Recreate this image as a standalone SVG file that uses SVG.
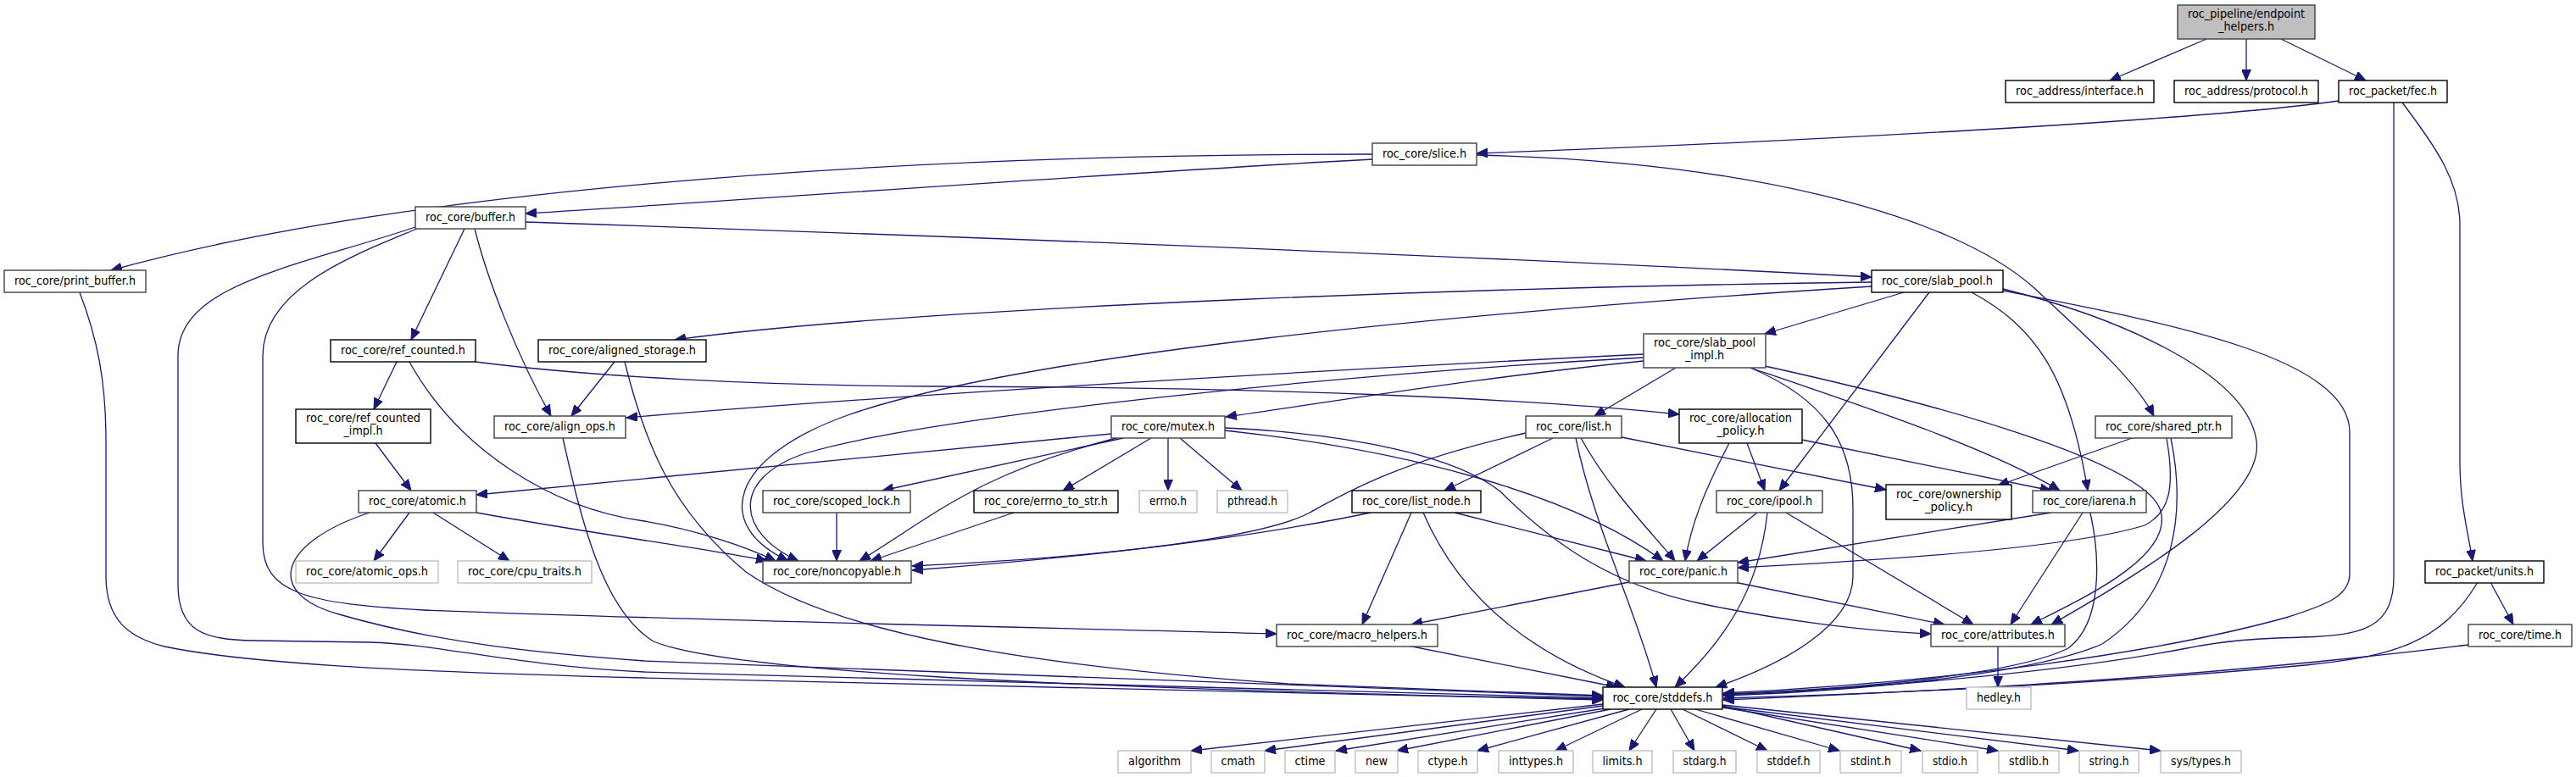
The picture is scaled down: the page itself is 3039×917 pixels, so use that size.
<svg xmlns="http://www.w3.org/2000/svg" width="3039" height="917" viewBox="0 0 3039 917">
<style>
.n rect{fill:#fff;stroke:#000;stroke-width:1.4}
.d rect{stroke:#404040}
.g rect{fill:#fff;stroke:#bfbfbf;stroke-width:1.4}
.r rect{fill:#bfbfbf;stroke:#404040;stroke-width:1.4}
text{font-family:"DejaVu Sans","Liberation Sans",sans-serif;font-size:14px;fill:#000;text-anchor:middle}
#edges path{fill:none;stroke:#191970;stroke-width:1.3;marker-end:url(#ah)}
</style>
<defs>
<marker id="ah" markerUnits="userSpaceOnUse" markerWidth="14" markerHeight="11" refX="13" refY="5.5" orient="auto">
<path d="M0,0 L13,5.5 L0,11 z" fill="#191970" stroke="#191970" stroke-width="1"/>
</marker>
</defs>
<rect x="0" y="0" width="3039" height="917" fill="#fff"/>
<g id="edges">
<path d="M2603,46 L2489,95"/>
<path d="M2650,46 L2650,95"/>
<path d="M2691,46 L2791,95"/>
<path d="M2759,119 C2600,142 2100,168 1742,181"/>
<path d="M2824,121 L2824,680 C2824,740 2790,750 2716,752 C2650,754 2620,757 2580,765 C2450,790 2250,810 2033,820"/>
<path d="M2834,121 C2875,175 2902,215 2902,265 L2902,545 C2902,595 2912,630 2917,662"/>
<path d="M1619,188 C1300,205 900,235 620,252"/>
<path d="M1619,182 C1000,182 450,230 131,319"/>
<path d="M1742,183 C2050,190 2300,250 2400,340 C2470,405 2520,450 2541,491"/>
<path d="M548,270 L485,401"/>
<path d="M560,270 C575,330 610,420 650,491"/>
<path d="M620,262 C1100,278 1700,300 2208,327"/>
<path d="M490,268 C350,315 210,335 210,420 L210,690 C210,745 240,755 300,756 L436,758 C520,760 600,785 760,793 L1891,824"/>
<path d="M492,270 C420,300 310,340 310,420 L310,640 C310,700 360,712 500,720 C900,735 1300,742 1506,748"/>
<path d="M94,345 C115,400 125,450 125,520 L125,680 C125,730 150,752 194,763 C300,785 500,793 760,800 L1891,826"/>
<path d="M468,427 L441,483"/>
<path d="M483,427 C540,530 650,600 760,615 C820,625 880,645 915,662"/>
<path d="M561,427 C700,445 900,455 1100,456 C1500,457 1800,470 1981,489"/>
<path d="M443,523 L485,579"/>
<path d="M725,427 L674,491"/>
<path d="M737,427 C760,520 790,600 880,675 C980,745 1200,785 1520,807 L1891,821"/>
<path d="M664,517 C685,610 710,720 771,757 C850,790 1200,812 1891,825"/>
<path d="M483,605 L441,662"/>
<path d="M511,605 L601,662"/>
<path d="M562,605 C700,630 850,650 905,662"/>
<path d="M436,605 C330,640 310,700 400,725 C520,760 650,772 760,780 L1891,822"/>
<path d="M1311,512 L562,584"/>
<path d="M1325,517 L1041,579"/>
<path d="M1317,517 C1150,560 1100,610 1014,662"/>
<path d="M1358,517 L1254,579"/>
<path d="M1378,517 L1378,579"/>
<path d="M1392,517 L1465,579"/>
<path d="M1445,508 C1650,530 1850,580 1962,662"/>
<path d="M1445,505 C1600,512 1720,540 1770,580 C1830,640 1900,690 2005,712 C2100,732 2200,745 2278,748"/>
<path d="M987,605 L987,662"/>
<path d="M1196,605 L1027,662"/>
<path d="M2208,333 C1800,338 1100,360 796,401"/>
<path d="M2208,338 C1700,370 1200,420 1000,490 C860,540 840,620 930,662"/>
<path d="M2246,345 L2082,394"/>
<path d="M2276,345 L2099,579"/>
<path d="M2326,345 C2400,385 2440,440 2463,579"/>
<path d="M2363,341 C2500,375 2650,440 2662,520 C2672,590 2520,680 2420,737"/>
<path d="M2363,343 C2550,380 2772,420 2772,510 L2772,677 C2772,705 2740,715 2700,728 C2550,770 2300,805 2033,818"/>
<path d="M1939,418 C1500,440 1000,470 739,493"/>
<path d="M1939,426 C1750,445 1600,470 1446,492"/>
<path d="M1939,422 C1600,440 1100,490 950,535 C860,565 870,630 942,662"/>
<path d="M1977,434 L1881,491"/>
<path d="M2082,432 C2300,480 2525,545 2548,600 C2568,655 2460,705 2396,737"/>
<path d="M2065,434 C2200,480 2350,530 2430,579"/>
<path d="M2065,434 C2150,470 2186,520 2186,600 L2186,680 C2186,740 2100,785 2024,811"/>
<path d="M1832,517 L1704,579"/>
<path d="M1800,511 C1650,545 1590,580 1545,605 C1480,640 1250,660 1076,668"/>
<path d="M1859,517 C1880,620 1930,720 1954,811"/>
<path d="M1865,517 C1900,580 1950,630 1976,662"/>
<path d="M1913,516 L2225,578"/>
<path d="M1617,605 C1450,640 1250,660 1076,673"/>
<path d="M1665,605 L1607,737"/>
<path d="M1679,605 C1720,700 1800,770 1917,811"/>
<path d="M1716,605 L1942,662"/>
<path d="M2061,523 L2082,579"/>
<path d="M2040,523 C2010,580 1995,620 1988,662"/>
<path d="M2126,519 L2420,579"/>
<path d="M2073,605 L2002,662"/>
<path d="M2085,605 C2075,700 2030,760 1976,811"/>
<path d="M2107,605 L2328,737"/>
<path d="M2420,605 L2050,664"/>
<path d="M2457,605 L2372,737"/>
<path d="M2466,605 C2478,660 2480,735 2440,765 C2380,795 2200,813 2033,819"/>
<path d="M2518,516 L2357,573"/>
<path d="M2556,517 C2566,575 2560,605 2530,620 C2450,645 2250,660 2050,670"/>
<path d="M2561,517 C2578,600 2570,700 2480,760 C2400,795 2200,815 2033,821"/>
<path d="M1922,687 L1665,737"/>
<path d="M2046,687 L2294,737"/>
<path d="M1661,762 L1908,811"/>
<path d="M2357,762 L2357,811"/>
<path d="M2923,687 C2880,760 2820,775 2720,785 C2500,805 2250,818 2033,824"/>
<path d="M2938,687 L2965,737"/>
<path d="M2912,761 C2600,800 2300,815 2033,826"/>
<path d="M1891,831 L1405,886"/>
<path d="M1891,833 L1492,886"/>
<path d="M1893,836 L1576,886"/>
<path d="M1900,837 L1648,886"/>
<path d="M1922,837 L1743,886"/>
<path d="M1937,837 L1835,886"/>
<path d="M1954,837 L1922,886"/>
<path d="M1971,837 L1999,886"/>
<path d="M1985,837 L2085,886"/>
<path d="M2000,837 L2170,886"/>
<path d="M2032,833 L2266,886"/>
<path d="M2032,835 L2357,886"/>
<path d="M2032,834 L2452,886"/>
<path d="M2032,832 L2549,886"/>
</g>
<g id="root" class="r"><rect x="2569" y="6" width="162" height="40"/><text x="2650" y="21" textLength="138" lengthAdjust="spacingAndGlyphs">roc_pipeline/endpoint</text><text x="2650" y="36" textLength="66" lengthAdjust="spacingAndGlyphs">_helpers.h</text></g>
<g id="interface" class="n"><rect x="2366" y="95" width="175" height="26"/><text x="2453.5" y="111.5" textLength="151" lengthAdjust="spacingAndGlyphs">roc_address/interface.h</text></g>
<g id="protocol" class="n"><rect x="2565" y="95" width="170" height="26"/><text x="2650" y="111.5" textLength="146" lengthAdjust="spacingAndGlyphs">roc_address/protocol.h</text></g>
<g id="fec" class="n"><rect x="2759" y="95" width="128" height="26"/><text x="2823" y="111.5" textLength="104" lengthAdjust="spacingAndGlyphs">roc_packet/fec.h</text></g>
<g id="slice" class="n d"><rect x="1619" y="169" width="123" height="26"/><text x="1680.5" y="185.5" textLength="99" lengthAdjust="spacingAndGlyphs">roc_core/slice.h</text></g>
<g id="buffer" class="n d"><rect x="490" y="244" width="130" height="26"/><text x="555" y="260.5" textLength="106" lengthAdjust="spacingAndGlyphs">roc_core/buffer.h</text></g>
<g id="print_buffer" class="n d"><rect x="5" y="319" width="167" height="26"/><text x="88.5" y="335.5" textLength="143" lengthAdjust="spacingAndGlyphs">roc_core/print_buffer.h</text></g>
<g id="slab_pool" class="n"><rect x="2208" y="319" width="155" height="26"/><text x="2285.5" y="335.5" textLength="131" lengthAdjust="spacingAndGlyphs">roc_core/slab_pool.h</text></g>
<g id="ref_counted" class="n"><rect x="390" y="401" width="171" height="26"/><text x="475.5" y="417.5" textLength="147" lengthAdjust="spacingAndGlyphs">roc_core/ref_counted.h</text></g>
<g id="aligned_storage" class="n"><rect x="635" y="401" width="198" height="26"/><text x="734" y="417.5" textLength="174" lengthAdjust="spacingAndGlyphs">roc_core/aligned_storage.h</text></g>
<g id="slab_pool_impl" class="n d"><rect x="1939" y="394" width="144" height="40"/><text x="2011" y="409" textLength="120" lengthAdjust="spacingAndGlyphs">roc_core/slab_pool</text><text x="2011" y="424" textLength="46" lengthAdjust="spacingAndGlyphs">_impl.h</text></g>
<g id="ref_counted_impl" class="n"><rect x="349" y="483" width="159" height="40"/><text x="428.5" y="498" textLength="135" lengthAdjust="spacingAndGlyphs">roc_core/ref_counted</text><text x="428.5" y="513" textLength="46" lengthAdjust="spacingAndGlyphs">_impl.h</text></g>
<g id="align_ops" class="n d"><rect x="583" y="491" width="155" height="26"/><text x="660.5" y="507.5" textLength="131" lengthAdjust="spacingAndGlyphs">roc_core/align_ops.h</text></g>
<g id="mutex" class="n d"><rect x="1311" y="491" width="134" height="26"/><text x="1378" y="507.5" textLength="110" lengthAdjust="spacingAndGlyphs">roc_core/mutex.h</text></g>
<g id="list" class="n d"><rect x="1800" y="491" width="113" height="26"/><text x="1856.5" y="507.5" textLength="89" lengthAdjust="spacingAndGlyphs">roc_core/list.h</text></g>
<g id="allocation_policy" class="n"><rect x="1981" y="483" width="145" height="40"/><text x="2053.5" y="498" textLength="121" lengthAdjust="spacingAndGlyphs">roc_core/allocation</text><text x="2053.5" y="513" textLength="56" lengthAdjust="spacingAndGlyphs">_policy.h</text></g>
<g id="shared_ptr" class="n d"><rect x="2472" y="491" width="161" height="26"/><text x="2552.5" y="507.5" textLength="137" lengthAdjust="spacingAndGlyphs">roc_core/shared_ptr.h</text></g>
<g id="atomic" class="n d"><rect x="423" y="579" width="139" height="26"/><text x="492.5" y="595.5" textLength="115" lengthAdjust="spacingAndGlyphs">roc_core/atomic.h</text></g>
<g id="scoped_lock" class="n d"><rect x="900" y="579" width="174" height="26"/><text x="987" y="595.5" textLength="150" lengthAdjust="spacingAndGlyphs">roc_core/scoped_lock.h</text></g>
<g id="errno_to_str" class="n"><rect x="1149" y="579" width="170" height="26"/><text x="1234" y="595.5" textLength="146" lengthAdjust="spacingAndGlyphs">roc_core/errno_to_str.h</text></g>
<g id="errno" class="g"><rect x="1344" y="579" width="68" height="26"/><text x="1378" y="595.5" textLength="44" lengthAdjust="spacingAndGlyphs">errno.h</text></g>
<g id="pthread" class="g"><rect x="1436" y="579" width="83" height="26"/><text x="1477.5" y="595.5" textLength="59" lengthAdjust="spacingAndGlyphs">pthread.h</text></g>
<g id="list_node" class="n"><rect x="1595" y="579" width="152" height="26"/><text x="1671" y="595.5" textLength="128" lengthAdjust="spacingAndGlyphs">roc_core/list_node.h</text></g>
<g id="ipool" class="n d"><rect x="2025" y="579" width="125" height="26"/><text x="2087.5" y="595.5" textLength="101" lengthAdjust="spacingAndGlyphs">roc_core/ipool.h</text></g>
<g id="ownership_policy" class="n"><rect x="2225" y="572" width="148" height="41"/><text x="2299" y="587.5" textLength="124" lengthAdjust="spacingAndGlyphs">roc_core/ownership</text><text x="2299" y="602.5" textLength="56" lengthAdjust="spacingAndGlyphs">_policy.h</text></g>
<g id="iarena" class="n d"><rect x="2398" y="579" width="134" height="26"/><text x="2465" y="595.5" textLength="110" lengthAdjust="spacingAndGlyphs">roc_core/iarena.h</text></g>
<g id="noncopyable" class="n d"><rect x="900" y="662" width="175" height="26"/><text x="987.5" y="678.5" textLength="151" lengthAdjust="spacingAndGlyphs">roc_core/noncopyable.h</text></g>
<g id="atomic_ops" class="g"><rect x="349" y="662" width="168" height="26"/><text x="433" y="678.5" textLength="144" lengthAdjust="spacingAndGlyphs">roc_core/atomic_ops.h</text></g>
<g id="cpu_traits" class="g"><rect x="540" y="662" width="158" height="26"/><text x="619" y="678.5" textLength="134" lengthAdjust="spacingAndGlyphs">roc_core/cpu_traits.h</text></g>
<g id="panic" class="n d"><rect x="1922" y="662" width="128" height="26"/><text x="1986" y="678.5" textLength="104" lengthAdjust="spacingAndGlyphs">roc_core/panic.h</text></g>
<g id="units" class="n"><rect x="2861" y="662" width="140" height="26"/><text x="2931" y="678.5" textLength="116" lengthAdjust="spacingAndGlyphs">roc_packet/units.h</text></g>
<g id="macro_helpers" class="n d"><rect x="1506" y="737" width="190" height="26"/><text x="1601" y="753.5" textLength="166" lengthAdjust="spacingAndGlyphs">roc_core/macro_helpers.h</text></g>
<g id="attributes" class="n d"><rect x="2278" y="737" width="158" height="26"/><text x="2357" y="753.5" textLength="134" lengthAdjust="spacingAndGlyphs">roc_core/attributes.h</text></g>
<g id="time" class="n d"><rect x="2912" y="737" width="122" height="26"/><text x="2973" y="753.5" textLength="98" lengthAdjust="spacingAndGlyphs">roc_core/time.h</text></g>
<g id="stddefs" class="n"><rect x="1891" y="811" width="141" height="26"/><text x="1961.5" y="827.5" textLength="118" lengthAdjust="spacingAndGlyphs">roc_core/stddefs.h</text></g>
<g id="hedley" class="g"><rect x="2320" y="811" width="76" height="26"/><text x="2358" y="827.5" textLength="52" lengthAdjust="spacingAndGlyphs">hedley.h</text></g>
<g id="algorithm" class="g"><rect x="1319" y="886" width="86" height="26"/><text x="1362" y="902.5" textLength="62" lengthAdjust="spacingAndGlyphs">algorithm</text></g>
<g id="cmath" class="g"><rect x="1429" y="886" width="63" height="26"/><text x="1460.5" y="902.5" textLength="40" lengthAdjust="spacingAndGlyphs">cmath</text></g>
<g id="ctime" class="g"><rect x="1516" y="886" width="59" height="26"/><text x="1545.5" y="902.5" textLength="36" lengthAdjust="spacingAndGlyphs">ctime</text></g>
<g id="new" class="g"><rect x="1599" y="886" width="50" height="26"/><text x="1624" y="902.5" textLength="26" lengthAdjust="spacingAndGlyphs">new</text></g>
<g id="ctype" class="g"><rect x="1673" y="886" width="70" height="26"/><text x="1708" y="902.5" textLength="47" lengthAdjust="spacingAndGlyphs">ctype.h</text></g>
<g id="inttypes" class="g"><rect x="1768" y="886" width="88" height="26"/><text x="1812" y="902.5" textLength="64" lengthAdjust="spacingAndGlyphs">inttypes.h</text></g>
<g id="limits" class="g"><rect x="1879" y="886" width="70" height="26"/><text x="1914" y="902.5" textLength="47" lengthAdjust="spacingAndGlyphs">limits.h</text></g>
<g id="stdarg" class="g"><rect x="1974" y="886" width="74" height="26"/><text x="2011" y="902.5" textLength="51" lengthAdjust="spacingAndGlyphs">stdarg.h</text></g>
<g id="stddef" class="g"><rect x="2073" y="886" width="74" height="26"/><text x="2110" y="902.5" textLength="51" lengthAdjust="spacingAndGlyphs">stddef.h</text></g>
<g id="stdint" class="g"><rect x="2171" y="886" width="72" height="26"/><text x="2207" y="902.5" textLength="48" lengthAdjust="spacingAndGlyphs">stdint.h</text></g>
<g id="stdio" class="g"><rect x="2268" y="886" width="65" height="26"/><text x="2300.5" y="902.5" textLength="41" lengthAdjust="spacingAndGlyphs">stdio.h</text></g>
<g id="stdlib" class="g"><rect x="2358" y="886" width="71" height="26"/><text x="2393.5" y="902.5" textLength="47" lengthAdjust="spacingAndGlyphs">stdlib.h</text></g>
<g id="string" class="g"><rect x="2453" y="886" width="70" height="26"/><text x="2488" y="902.5" textLength="47" lengthAdjust="spacingAndGlyphs">string.h</text></g>
<g id="sys_types" class="g"><rect x="2549" y="886" width="95" height="26"/><text x="2596.5" y="902.5" textLength="71" lengthAdjust="spacingAndGlyphs">sys/types.h</text></g>
</svg>
